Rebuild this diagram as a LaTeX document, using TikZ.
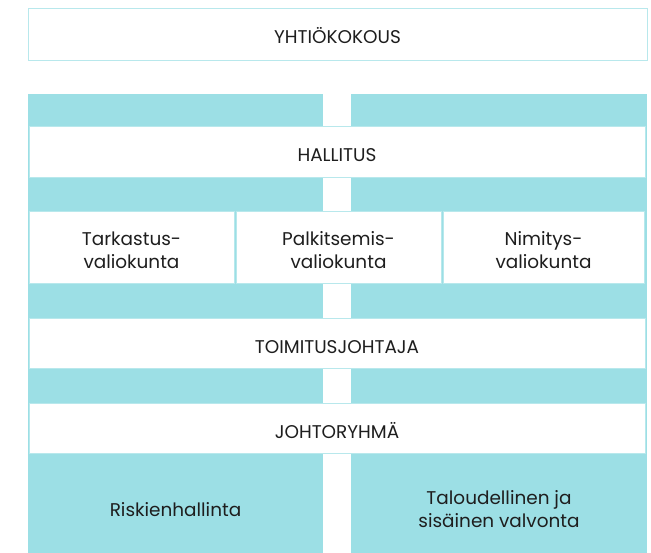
\documentclass[tikz,border=0pt]{standalone}
\usepackage{fontspec}
\setmainfont{Poppins}
\usepackage{xcolor}
\definecolor{tealbar}{HTML}{9CDFE5}
\definecolor{tealline}{HTML}{B8E8EC}
\definecolor{textgray}{HTML}{1E1E1E}
\tikzset{
	whitebox/.style={draw=tealline, line width=0.8bp, fill=white, inner sep=0pt, text=textgray, font=\fontsize{18.5}{23}\selectfont, align=center, text height=20bp, text depth=0bp},
	twoline/.style={text height=43bp},
	tealbox/.style={fill=tealbar, inner sep=0pt, text=textgray, font=\fontsize{18.5}{23}\selectfont, align=center}
}

\begin{document}
\begin{tikzpicture}[x=1bp, y=-1bp]
					\useasboundingbox (0,0) rectangle (651,553);
					% Background columns:
					\fill[tealbar] (28,94) rectangle (323,553);
					\fill[tealbar] (351,94) rectangle (647,553);
					% Boxes:
					\node[whitebox, minimum width=619bp, minimum height=52bp](yhtio) at (337.5,34){YHTIÖKOKOUS};
					\node[whitebox, minimum width=616bp, minimum height=51bp](hallitus) at (337,151.5){HALLITUS};
					\node[whitebox, twoline, minimum width=205bp, minimum height=72bp](tark) at (131.5,247){Tarkastus-\\valiokunta};
					\node[whitebox, twoline, minimum width=205bp, minimum height=72bp](palk) at (338.5,247){Palkitsemis-\\valiokunta};
					\node[whitebox, twoline, minimum width=201bp, minimum height=72bp](nimi) at (543.5,247){Nimitys-\\valiokunta};
					\node[whitebox, minimum width=616bp, minimum height=50bp](toim) at (337,343){TOIMITUSJOHTAJA};
					\node[whitebox, minimum width=616bp, minimum height=50bp](johto) at (337,428){JOHTORYHMÄ};
					\node[tealbox](riski) at (175.5,510){Riskienhallinta};
					\node[tealbox](talous) at (499,509){Taloudellinen ja\\sisäinen valvonta};
				\end{tikzpicture}
\end{document}
